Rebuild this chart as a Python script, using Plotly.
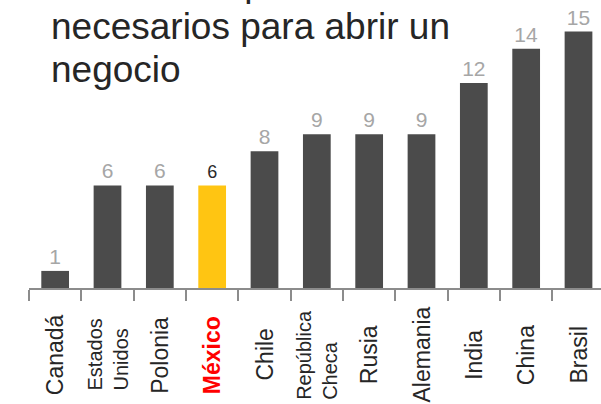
import plotly.graph_objects as go

categories = ["Canadá", "Estados<br>Unidos", "Polonia", "<b>México</b>", "Chile",
              "República<br>Checa", "Rusia", "Alemania", "India", "China", "Brasil"]
values = [1, 6, 6, 6, 8, 9, 9, 9, 12, 14, 15]
highlight = "<b>México</b>"
title_lines = ["Número de procedimientos", "necesarios para abrir un", "negocio"]

W, H = 601, 404
ML, MR, MT, MB = 29, 0, 0, 116
PH = H - MT - MB

x_idx = list(range(len(categories)))
bar_colors = ["#FFC512" if c == highlight else "#4b4b4b" for c in categories]
txt_colors = ["#2a2a2a" if c == highlight else "#a6a6a6" for c in categories]
txt_sizes = [18 if c == highlight else 21 for c in categories]

fig = go.Figure()
fig.add_trace(go.Bar(
    x=x_idx, y=values,
    marker=dict(color=bar_colors, line=dict(width=0)),
    text=[str(v) for v in values], textposition="outside",
    textfont=dict(color=txt_colors, size=txt_sizes, family="Liberation Sans, Arial"),
    cliponaxis=False, width=0.53,
))

def py(pix):
    return (H - MB - pix) / PH

annotations = []
for i, c in enumerate(categories):
    two = "<br>" in c
    annotations.append(dict(
        x=i, xref="x", y=py(355), yref="paper",
        text=c, textangle=-90, showarrow=False,
        xanchor="center", yanchor="middle", align="left",
        font=dict(size=20 if two else 23,
                  color="#ff0000" if c == highlight else "#262626",
                  family="Liberation Sans, Arial"),
    ))

title_centers = [-16.0, 26.8, 69.5]
for line, cy in zip(title_lines, title_centers):
    annotations.append(dict(
        x=(49 - ML) / (W - ML - MR), xref="paper", y=py(cy), yref="paper",
        text=line, showarrow=False,
        xanchor="left", yanchor="middle", align="left",
        font=dict(size=37, color="#262626", family="Liberation Sans, Arial"),
    ))

fig.update_layout(
    width=W, height=H,
    margin=dict(l=ML, r=MR, t=MT, b=MB, pad=0),
    plot_bgcolor="white", paper_bgcolor="white",
    showlegend=False,
    annotations=annotations,
    xaxis=dict(
        type="linear", range=[-0.5, 10.43],
        tickmode="array", tickvals=[i - 0.5 for i in range(len(categories) + 1)],
        showticklabels=False, ticks="outside", ticklen=11, tickwidth=2,
        tickcolor="#8c8c8c", showline=True, linecolor="#8c8c8c", linewidth=2,
        showgrid=False, zeroline=False,
    ),
    yaxis=dict(range=[0, 16.85], visible=False, showgrid=False, zeroline=False),
)

fig.write_html("out.html", config={"displayModeBar": False},
               post_script="document.body.style.margin='0px';")
